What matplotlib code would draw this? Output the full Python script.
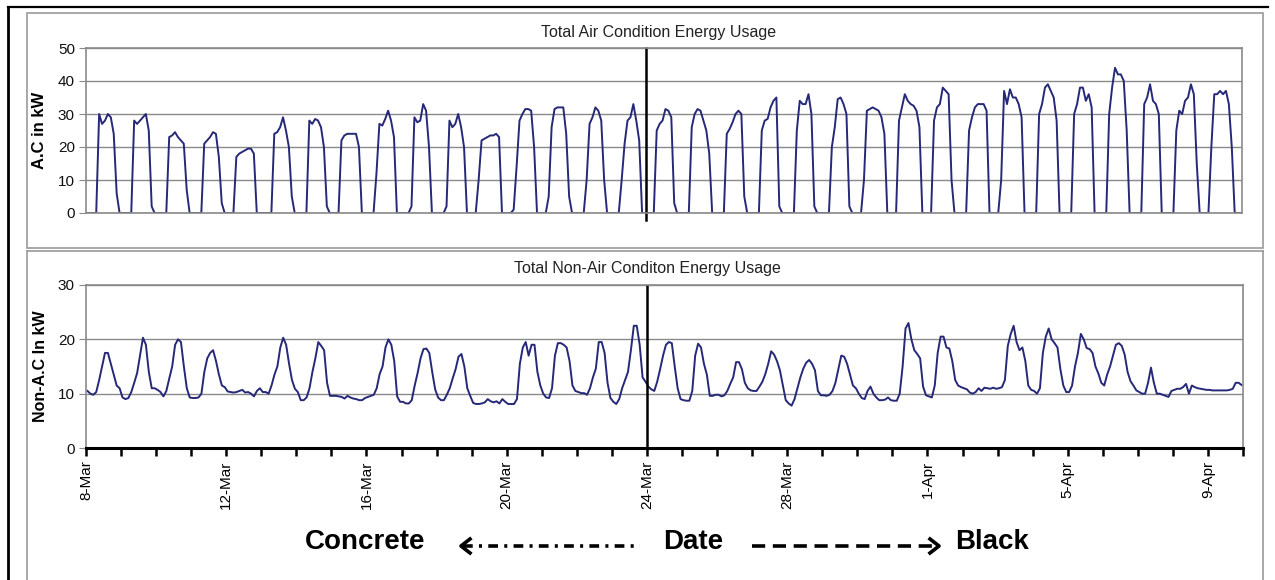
import numpy as np
import pandas as pd
import matplotlib
matplotlib.use('Agg')
import matplotlib.pyplot as plt
from matplotlib.lines import Line2D
from matplotlib.patches import Rectangle

plt.rcParams['font.family'] = ['Liberation Sans', 'DejaVu Sans']
plt.rcParams['lines.scale_dashes'] = False

# 12 readings per day (01:00, 03:00, ... 23:00), 8-Mar .. 9-Apr
ac_days = [
    [0, 0, 0, 0, 30, 27, 28, 30, 29, 24, 6, 0],
    [0, 0, 0, 0, 28, 27, 28, 29, 30, 25, 2, 0],
    [0, 0, 0, 0, 23, 23.5, 24.5, 23, 22, 21, 7, 0],
    [0, 0, 0, 0, 21, 22, 23, 24.5, 24, 17, 3, 0],
    [0, 0, 0, 17, 18, 18.5, 19, 19.5, 19.5, 18, 0, 0],
    [0, 0, 0, 0, 24, 24.5, 26, 29, 25, 20, 5, 0],
    [0, 0, 0, 0, 28, 27, 28.5, 28, 26, 20, 2, 0],
    [0, 0, 0, 22, 23.5, 24, 24, 24, 24, 20, 0, 0],
    [0, 0, 0, 12, 27, 26.5, 28.5, 31, 28, 23, 0, 0],
    [0, 0, 0, 2, 29, 27.5, 28, 33, 31, 20, 0, 0],
    [0, 0, 0, 2, 28, 26, 27, 30, 26, 20, 0, 0],
    [0, 0, 10, 22, 22.5, 23, 23.5, 23.5, 24, 23, 0, 0],
    [0, 0, 1, 14, 28, 30, 31.5, 31.5, 31, 20, 0, 0],
    [0, 0, 5, 26, 31.5, 32, 32, 32, 24, 5, 0, 0],
    [0, 0, 0, 10, 27, 29, 32, 31, 28, 10, 0, 0],
    [0, 0, 0, 10, 21, 28, 29, 33, 28, 22, 0, 0],
    [0, 0, 0, 25, 27, 28, 31.5, 31, 29, 3, 0, 0],
    [0, 0, 0, 26, 30, 31.5, 31, 28, 25, 18, 0, 0],
    [0, 0, 0, 24, 25.5, 27.5, 30, 31, 30, 5, 0, 0],
    [0, 0, 0, 25, 28, 28.5, 32, 34, 35, 2, 0, 0],
    [0, 0, 0, 25, 34, 33, 33, 36, 30, 2, 0, 0],
    [0, 0, 0, 20, 26, 34.5, 35, 33, 30, 2, 0, 0],
    [0, 0, 10, 31, 31.5, 32, 31.5, 31, 29, 24, 0, 0],
    [0, 0, 28, 32, 36, 34, 33, 32.5, 31, 26, 0, 0],
    [0, 0, 28, 32, 33, 38, 37, 36, 10, 0, 0, 0],
    [0, 0, 25, 29, 32, 33, 33, 33, 31, 0, 0, 0],
    [0, 10, 37, 33, 37.5, 35, 35, 33, 29, 0, 0, 0],
    [0, 0, 30, 33, 38, 39, 37, 35, 28, 0, 0, 0],
    [0, 0, 30, 33, 38, 38, 34, 36, 32, 0, 0, 0],
    [0, 0, 30, 38, 44, 42, 42, 40, 25, 0, 0, 0],
    [0, 0, 33, 35, 39, 34, 33, 30, 0, 0, 0, 0],
    [0, 25, 31, 30, 34, 35, 39, 36, 15, 0, 0, 0],
    [0, 20, 36, 36, 37, 36, 37, 33, 20, 0, 0, 0],
]

nonac_days = [
    [10.5, 10, 9.8, 10.3, 12.5, 15, 17.5, 17.5, 15.5, 13.5, 11.5, 11],
    [9.3, 9, 9.2, 10.3, 12, 13.8, 17, 20.3, 19, 14, 11, 11],
    [10.7, 10.3, 9.5, 10.5, 12.8, 15, 19, 20, 19.5, 15, 11, 9.3],
    [9.2, 9.2, 9.3, 10, 14, 16.5, 17.5, 18, 16, 13.5, 11.5, 11.2],
    [10.4, 10.3, 10.2, 10.3, 10.5, 10.7, 10.2, 10.3, 10, 9.5, 10.5, 11],
    [10.3, 10.3, 10, 11.5, 13.5, 15, 18.5, 20.3, 19, 15.5, 12.5, 10.9],
    [10.3, 8.8, 8.8, 9.3, 11, 14, 16.5, 19.5, 18.8, 18, 12, 9.6],
    [9.6, 9.6, 9.5, 9.4, 9.1, 9.6, 9.3, 9.1, 9, 8.8, 8.8, 9.2],
    [9.4, 9.6, 9.8, 11, 13.6, 15, 18.5, 20, 19, 16, 9.5, 8.5],
    [8.5, 8.2, 8.2, 8.8, 11.5, 13.8, 16.5, 18.2, 18.3, 17.5, 14, 10.8],
    [9.3, 8.8, 8.8, 9.8, 11, 12.8, 14.5, 16.8, 17.3, 15, 11, 9.6],
    [8.3, 8.1, 8.1, 8.2, 8.4, 9, 8.6, 8.4, 8.6, 8.2, 9, 8.5],
    [8.1, 8.1, 8.1, 9, 15.5, 18.5, 19.5, 17, 19, 19, 14, 11.5],
    [10, 9.3, 9.2, 11, 17, 19.3, 19.3, 19, 18.5, 16, 11.5, 10.5],
    [10.3, 10.1, 10.1, 9.8, 11, 13, 14.6, 19.5, 19.5, 17.5, 12, 9.2],
    [8.5, 8.1, 9, 11, 12.5, 14, 18, 22.5, 22.5, 19, 13, 12.2],
    [11.3, 10.8, 10.5, 12.2, 14.5, 17, 19, 19.5, 19.3, 15, 11, 9],
    [8.8, 8.7, 8.7, 10.5, 17, 19.2, 18.5, 15.5, 13.5, 9.6, 9.6, 9.8],
    [9.8, 9.5, 9.7, 10.5, 11.8, 13, 15.8, 15.8, 14.5, 12, 11, 10.6],
    [10.5, 10.5, 11.3, 12.2, 13.6, 15.5, 17.8, 17.2, 16, 14.3, 11.5, 8.8],
    [8.2, 7.8, 9, 11, 13, 14.6, 15.7, 16.2, 15.5, 14.3, 10.5, 9.7],
    [9.7, 9.6, 9.8, 10.5, 12, 14.5, 17, 16.8, 15.5, 13.5, 11.5, 11],
    [10, 9.2, 9, 10.5, 11.3, 10, 9.3, 8.8, 8.8, 8.9, 9.3, 8.8],
    [8.7, 8.7, 10, 15, 22, 23, 20, 18, 17.3, 16.5, 11.3, 9.7],
    [9.5, 9.3, 11.5, 17.5, 20.5, 20.5, 18.5, 18.3, 16, 12.5, 11.5, 11.2],
    [11, 10.8, 10.2, 10, 10.3, 11, 10.5, 11.1, 11, 10.9, 11.1, 10.9],
    [11, 11.2, 12.5, 18.8, 21, 22.5, 19.5, 18, 18.5, 16, 11.5, 10.7],
    [10.5, 10, 11, 17.5, 20.5, 22, 20, 19.3, 18.5, 14.5, 11.5, 10.3],
    [10.3, 11.5, 15, 17.5, 21, 20, 18.4, 18.2, 17.5, 15, 13.7, 12],
    [11.5, 13.5, 15, 17, 19, 19.3, 18.8, 17.2, 14, 12.3, 11.5, 10.6],
    [10.3, 10, 10, 12, 14.8, 12, 10, 10, 9.8, 9.6, 9.4, 10.5],
    [10.7, 10.9, 10.9, 11.2, 11.8, 10, 11.5, 11.2, 11, 10.9, 10.8, 10.7],
    [10.7, 10.6, 10.6, 10.6, 10.6, 10.6, 10.6, 10.7, 10.9, 12, 12, 11.6],
]

tick_dates = ['2008-03-08', '2008-03-12', '2008-03-16', '2008-03-20', '2008-03-24',
              '2008-03-28', '2008-04-01', '2008-04-05', '2008-04-09']
tick_labels = ['8-Mar', '12-Mar', '16-Mar', '20-Mar', '24-Mar',
               '28-Mar', '1-Apr', '5-Apr', '9-Apr']
switch_date = '2008-03-24'
start_date, end_date = '2008-03-08', '2008-04-10'

ac = np.concatenate(ac_days)
nonac = np.concatenate(nonac_days)
times = pd.date_range(start_date + ' 01:00', periods=len(ac), freq='2h')
days = pd.date_range(start_date, end_date, freq='D')

W, H = 1275, 580
fig = plt.figure(figsize=(W / 100, H / 100), dpi=100)


def box(l, t, r, b):
    return [l / W, 1 - b / H, (r - l) / W, (b - t) / H]


def fx(x):
    return x / W


def fy(y):
    return 1 - y / H


line_col = '#262878'
grid_col = '#8a8a8a'

ax1 = fig.add_axes(box(86, 48, 1242, 213))
ax2 = fig.add_axes(box(86, 285, 1243, 448))

for ax, ymax, step in [(ax1, 50, 10), (ax2, 30, 10)]:
    ax.set_xlim(pd.Timestamp(start_date), pd.Timestamp(end_date))
    ax.set_ylim(0, ymax)
    ax.set_yticks(np.arange(0, ymax + 1, step))
    ax.yaxis.grid(True, color=grid_col, lw=1)
    ax.set_axisbelow(True)
    for s in ax.spines.values():
        s.set_color(grid_col)
        s.set_linewidth(1.2)
    ax.tick_params(axis='y', direction='out', length=5, color=grid_col,
                   labelsize=11, labelcolor='#111111', pad=3)

ax1.plot(times, ac, color=line_col, lw=1.4)
ax1.set_xticks([])
sw = pd.Timestamp(switch_date)
ax1.plot([sw, sw], [-2.2, 50], color='black', lw=1.8, clip_on=False)
ax1.set_ylabel('A.C in kW', fontsize=12, fontweight='bold')
ax1.yaxis.set_label_coords((47 - 86) / 1156, 0.5)

ax2.plot(times, nonac, color=line_col, lw=1.4)
ax2.plot([sw, sw], [0, 30], color='black', lw=1.8)
ax2.set_xticks(pd.to_datetime(tick_dates))
ax2.set_xticklabels(tick_labels, rotation=90, fontsize=11)
ax2.set_xticks(days, minor=True)
ax2.tick_params(axis='x', which='both', direction='out', length=6, width=1.8,
                color='black', pad=3)
ax2.spines['bottom'].set_color('black')
ax2.spines['bottom'].set_linewidth(2.2)
ax2.set_ylabel('Non-A.C In kW', fontsize=11.5, fontweight='bold')
ax2.yaxis.set_label_coords((48 - 86) / 1157, 0.5)

fig.text(fx(659), fy(33), 'Total Air Condition Energy Usage',
         fontsize=11.5, ha='center', va='center', color='#222222')
fig.text(fx(647), fy(269), 'Total Non-Air Conditon Energy Usage',
         fontsize=11.5, ha='center', va='center', color='#222222')

# chart frames
fig.add_artist(Rectangle((fx(27), fy(248)), fx(1263 - 27), (248 - 13) / H,
                         fill=False, ec='#9a9a9a', lw=1.2))
for xs, ys in [([27, 27], [251, 580]), ([1263, 1263], [251, 580]), ([27, 1263], [251, 251])]:
    fig.add_artist(Line2D([fx(v) for v in xs], [fy(v) for v in ys],
                          color='#9a9a9a', lw=1.2))
fig.add_artist(Line2D([fx(8), fx(1268)], [fy(7), fy(7)], color='black', lw=1.6))
fig.add_artist(Line2D([fx(8), fx(8)], [fy(7), fy(580)], color='black', lw=2))

# bottom annotation
for x, s in [(305, 'Concrete'), (663, 'Date'), (955, 'Black')]:
    fig.text(fx(x), fy(542), s, fontsize=20, fontweight='bold',
             ha='left', va='center')
ya = 546
fig.add_artist(Line2D([fx(463), fx(640)], [fy(ya), fy(ya)], color='black',
                      lw=2.6, dashes=(7, 4.5, 2.2, 4.5)))
fig.add_artist(Line2D([fx(470), fx(461), fx(470)], [fy(ya - 7), fy(ya), fy(ya + 7)],
                      color='black', lw=2.6))
fig.add_artist(Line2D([fx(752), fx(937)], [fy(ya), fy(ya)], color='black',
                      lw=2.6, dashes=(9.5, 5.5)))
fig.add_artist(Line2D([fx(930), fx(939), fx(930)], [fy(ya - 7), fy(ya), fy(ya + 7)],
                      color='black', lw=2.6))

fig.savefig('out.png', dpi=100)
